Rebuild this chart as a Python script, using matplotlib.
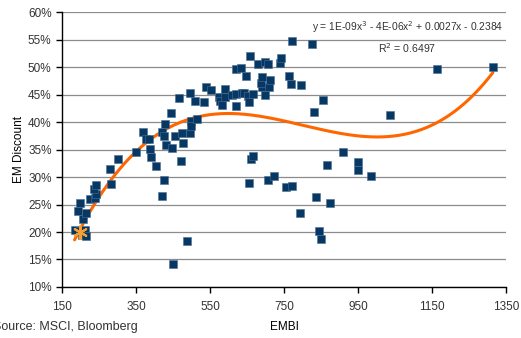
import matplotlib
matplotlib.use('Agg')
import matplotlib.pyplot as plt
from matplotlib.ticker import FuncFormatter
import numpy as np

plt.rcParams['font.family'] = ['Liberation Sans Narrow', 'Liberation Sans', 'DejaVu Sans']

# EMBI spread vs EM discount (%)
embi = [184, 199, 204, 211, 214, 193, 198, 206, 215, 226, 240, 243, 237, 243,
        279, 283, 301, 350, 368, 378, 385, 388, 391, 405, 420, 426, 428, 432,
        445, 448, 455, 466, 472, 474, 478, 496, 496, 498, 500, 509, 516, 534,
        539, 552, 575, 578, 582, 590, 591, 610, 620, 620, 620, 634, 637, 642,
        648, 654, 656, 659, 660, 665, 656, 667, 680, 690, 688, 692, 700, 700,
        706, 709, 712, 706, 723, 740, 743, 755, 763, 768, 771, 771, 793, 797,
        826, 831, 837, 845, 849, 856, 866, 874, 909, 950, 949, 986, 1036, 1165,
        1315, 421, 426, 451, 489]
discount = [20.3, 20.1, 19.5, 20.4, 19.3, 23.9, 25.3, 22.4, 23.5, 26.0, 26.2, 27.0, 27.8, 28.5,
            31.5, 28.7, 33.3, 34.6, 38.2, 37.0, 37.0, 35.1, 33.6, 32.1, 38.2, 37.4, 39.7, 35.8,
            41.7, 35.3, 37.4, 44.3, 33.0, 38.0, 36.2, 45.3, 38.0, 40.2, 39.2, 43.9, 40.5, 43.7,
            46.3, 45.8, 44.6, 43.9, 43.1, 44.5, 46.0, 45.0, 45.1, 43.0, 49.6, 49.9, 45.3, 45.3,
            48.4, 44.7, 43.6, 52.1, 33.3, 33.9, 28.9, 45.2, 50.5, 46.3, 47.1, 48.2, 51.0, 44.9,
            50.5, 46.3, 47.7, 29.4, 30.2, 50.7, 51.7, 28.2, 48.4, 47.0, 54.8, 28.3, 23.4, 46.8,
            54.2, 41.8, 26.4, 20.1, 18.7, 44.1, 32.2, 25.3, 34.6, 32.7, 31.3, 30.2, 41.2, 49.7,
            50.1, 26.6, 29.5, 14.2, 18.3]

current_embi = [199]
current_discount = [20.0]

equation = 'y = 1E-09x$^3$ - 4E-06x$^2$ + 0.0027x - 0.2384'
r_squared = 'R$^2$ = 0.6497'

fig = plt.figure(figsize=(5.21, 3.38), dpi=100)
ax = fig.add_axes([0.119, 0.151, 0.852, 0.813])

# cubic trend line through the scatter
coef = np.polyfit(embi, discount, 3)
xs = np.linspace(min(embi), max(embi), 300)
ax.plot(xs, np.polyval(coef, xs), color='#FF6600', lw=2.2, zorder=2, solid_capstyle='round')

ax.scatter(embi, discount, marker='s', s=26, color='#073763', edgecolors='#4a6f96',
           linewidths=0.4, zorder=3)
ax.scatter(current_embi, current_discount, marker=(6, 2, 0), s=90, color='#F7A030',
           linewidths=1.5, zorder=4)

ax.set_xlim(150, 1350)
ax.set_ylim(10, 60)
ax.set_xticks(range(150, 1351, 200))
ax.set_yticks(range(10, 61, 5))
ax.yaxis.set_major_formatter(FuncFormatter(lambda v, p: '%d%%' % v))
ax.grid(axis='y', color='#8c8c8c', lw=0.9)
ax.set_axisbelow(True)

for s in ['top', 'right']:
    ax.spines[s].set_visible(False)
for s in ['left', 'bottom']:
    ax.spines[s].set_color('black')
    ax.spines[s].set_linewidth(1.0)
ax.tick_params(axis='both', direction='out', length=4, width=1, labelsize=8.5,
               colors='black', labelcolor='#333333')
ax.tick_params(axis='x', pad=6)

ax.set_xlabel('EMBI', fontsize=8.5, labelpad=6)
ax.set_ylabel('EM Discount', fontsize=8.5, labelpad=2)

ax.text(0.778, 0.945, equation, transform=ax.transAxes, ha='center', va='center',
        fontsize=7.4, color='#333333')
ax.text(0.777, 0.869, r_squared, transform=ax.transAxes, ha='center', va='center',
        fontsize=7.6, color='#333333')

fig.text(-0.014, 0.015, 'Source: MSCI, Bloomberg', fontsize=9, color='#333333',
         ha='left', va='bottom')

fig.savefig('out.png', dpi=100)
